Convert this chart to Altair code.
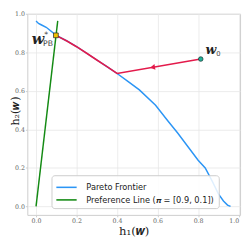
import altair as alt
import pandas as pd

# ---- data ----
pareto_x = [0.0, 0.012, 0.025, 0.05, 0.1, 0.15, 0.2, 0.25, 0.3, 0.35, 0.4, 0.45, 0.51,
            0.59, 0.65, 0.7, 0.75, 0.8, 0.835, 0.87, 0.9, 0.925, 0.945, 0.96]
pareto_y = [0.962, 0.95, 0.943, 0.93, 0.888, 0.86, 0.829, 0.795, 0.76, 0.726, 0.69, 0.652,
            0.605, 0.525, 0.445, 0.38, 0.31, 0.24, 0.2, 0.13, 0.065, 0.028, 0.007, 0.0]
pref_x = [0.0, 0.107]
pref_y = [0.0, 0.963]
path_x = [0.813, 0.4, 0.35, 0.3, 0.25, 0.2, 0.15, 0.098]
path_y = [0.765, 0.69, 0.726, 0.76, 0.795, 0.829, 0.86, 0.888]
w0_xy = [0.813, 0.765]
wpb_xy = [0.098, 0.888]
arrow_xy = [0.575, 0.722]
tick_vals = [0.0, 0.2, 0.4, 0.6, 0.8, 1.0]
series_names = ["Pareto Frontier", "Preference Line (\U0001D745 = [0.9, 0.1])"]
series_colors = ["#2b95f5", "#138a13"]

lines_df = pd.concat([
    pd.DataFrame({"x": pareto_x, "y": pareto_y, "series": series_names[0], "o": range(len(pareto_x))}),
    pd.DataFrame({"x": pref_x, "y": pref_y, "series": series_names[1], "o": range(len(pref_x))}),
])
path_df = pd.DataFrame({"x": path_x, "y": path_y, "o": range(len(path_x))})
w0_df = pd.DataFrame({"x": [w0_xy[0]], "y": [w0_xy[1]]})
wpb_df = pd.DataFrame({"x": [wpb_xy[0]], "y": [wpb_xy[1]]})
arrow_df = pd.DataFrame({"x": [arrow_xy[0]], "y": [arrow_xy[1]]})

xs = alt.Scale(domain=[-0.043, 1.007], nice=False, zero=False)
ys = alt.Scale(domain=[-0.044, 1.0], nice=False, zero=False)
xaxis = alt.Axis(values=tick_vals, format=".1f", title="h\u2081(\U0001D498)", titlePadding=2,
                 labelFlush=3)
yaxis = alt.Axis(values=tick_vals, format=".1f", title="h\u2082(\U0001D498)",
                 titleX=-7, titleY=100, titleFontSize=11.5)
X = alt.X("x:Q", scale=xs, axis=xaxis)
Y = alt.Y("y:Q", scale=ys, axis=yaxis)

lines = alt.Chart(lines_df).mark_line(strokeWidth=1.5).encode(
    x=X, y=Y, order="o:Q",
    color=alt.Color("series:N",
                    scale=alt.Scale(domain=series_names, range=series_colors),
                    legend=alt.Legend(title=None, orient="none", legendX=25, legendY=167,
                                      symbolType="M-1.4,0H1.4", symbolSize=225,
                                      symbolStrokeWidth=1.6, symbolOffset=3,
                                      labelFont="DejaVu Sans", labelFontSize=8.5, labelColor="#222",
                                      fillColor="rgba(255,255,255,0.85)", strokeColor="#cccccc",
                                      cornerRadius=3, padding=4, rowPadding=0, labelOffset=12,
                                      labelLimit=300)),
)
path = alt.Chart(path_df).mark_line(strokeWidth=1.6, color="#e31a4b").encode(x=X, y=Y, order="o:Q")
arrow = alt.Chart(arrow_df).mark_point(shape="triangle-left", filled=True, color="#e31a4b",
                                       size=34, angle=350, opacity=1).encode(x=X, y=Y)
w0_pt = alt.Chart(w0_df).mark_point(shape="circle", filled=True, fill="#22b39a", stroke="#1b3b38",
                                    strokeWidth=0.8, size=22, opacity=1).encode(x=X, y=Y)
wpb_pt = alt.Chart(wpb_df).mark_point(shape="square", filled=True, fill="#f2c200", stroke="#333333",
                                      strokeWidth=0.8, size=24, opacity=1).encode(x=X, y=Y)

serif = "DejaVu Serif"
w0_w = alt.Chart(w0_df).mark_text(text="w", font=serif, fontStyle="italic", fontWeight="bold",
                                  fontSize=13, align="left", baseline="alphabetic", dx=5, dy=-5,
                                  color="#222").encode(x=X, y=Y)
w0_sub = alt.Chart(w0_df).mark_text(text="0", font="DejaVu Sans", fontSize=7, align="left",
                                    baseline="alphabetic", dx=16, dy=-3, color="#444").encode(x=X, y=Y)
pb_w = alt.Chart(wpb_df).mark_text(text="w", font=serif, fontStyle="italic", fontWeight="bold",
                                   fontSize=15, align="right", baseline="alphabetic", dx=-12, dy=9,
                                   color="#222").encode(x=X, y=Y)
pb_star = alt.Chart(wpb_df).mark_text(text="*", font="DejaVu Sans", fontSize=8, align="left",
                                      baseline="alphabetic", dx=-12, dy=2, color="#444").encode(x=X, y=Y)
pb_sub = alt.Chart(wpb_df).mark_text(text="PB", font="DejaVu Sans", fontSize=8, align="right",
                                     baseline="alphabetic", dx=-3, dy=11, color="#444").encode(x=X, y=Y)

chart = alt.layer(lines, path, arrow, w0_pt, wpb_pt, w0_w, w0_sub, pb_w, pb_star, pb_sub).properties(
    width=220, height=208,
    autosize=alt.AutoSizeParams(type="none"),
    padding={"left": 20, "top": 2, "right": 2, "bottom": 22},
).configure_view(stroke="#cccccc", strokeWidth=1).configure_axis(
    domain=False, grid=True, gridColor="#e6e6e6", gridWidth=0.8,
    ticks=True, tickColor="#cccccc", tickSize=2, labelPadding=1,
    labelFont=serif, labelFontSize=6.5, labelColor="#666666",
    titleFont=serif, titleFontSize=12, titleFontWeight="normal", titleColor="#222222",
)

chart.save("out.html", embed_options={"renderer": "svg", "actions": False})
